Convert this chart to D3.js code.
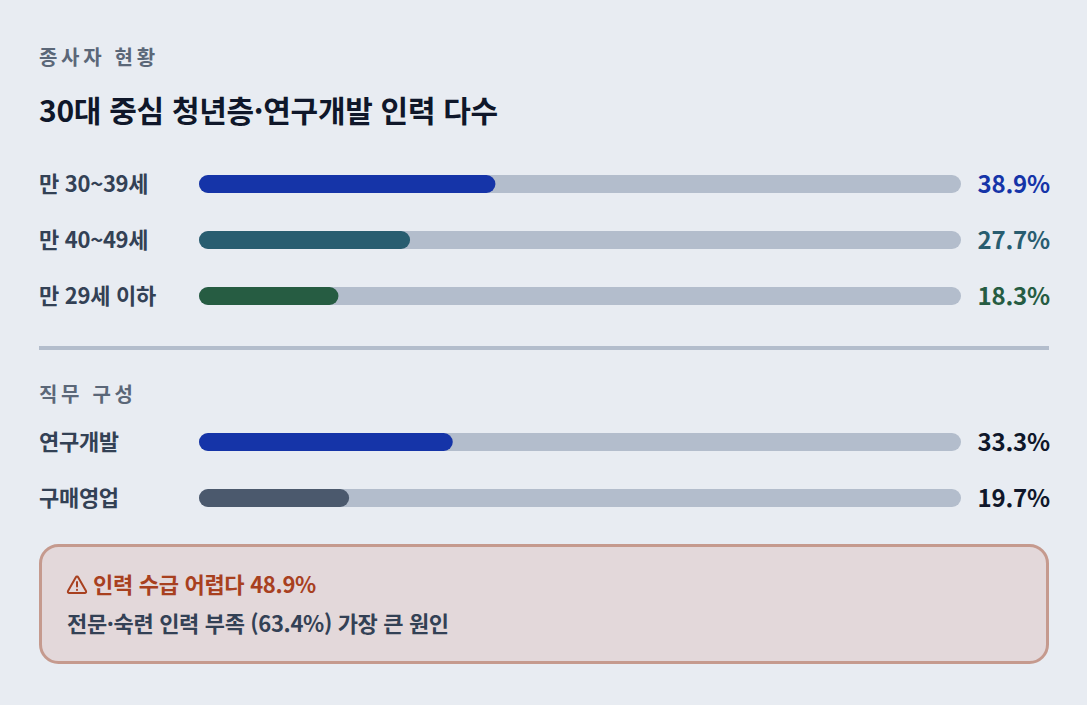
<!DOCTYPE html>
<html lang="ko"><head><meta charset="utf-8">
<script src="https://cdn.jsdelivr.net/npm/d3@7"></script>
<style>
html,body{margin:0;padding:0;background:#e8ecf2;}
svg{display:block;}
text{font-family:"Noto Sans CJK KR","Noto Sans",sans-serif;}
</style></head><body><svg id="c" width="1087" height="705"></svg>
<script>
const eyebrow = "종사자 현황";
const title = "30대 중심 청년층·연구개발 인력 다수";
const ageLabels = ["만 30~39세","만 40~49세","만 29세 이하"];
const ageValues = [38.9,27.7,18.3];
const ageColors = ["#1534a8","#285d70","#265c42"];
const jobHeading = "직무 구성";
const jobLabels = ["연구개발","구매영업"];
const jobValues = [33.3,19.7];
const jobColors = ["#1534a8","#4b596d"];
const alertHead = "인력 수급 어렵다 48.9%";
const alertBody = "전문·숙련 인력 부족 (63.4%) 가장 큰 원인";

const svg = d3.select("#c");
svg.append("rect").attr("width",1087).attr("height",705).attr("fill","#e8ecf2");

const x = d3.scaleLinear().domain([0,100]).range([199,961]);
const t = (px,py,s,size,weight,fill,extra)=>{
  const n = svg.append("text").attr("x",px).attr("y",py).attr("font-size",size).attr("font-weight",weight).attr("fill",fill).text(s);
  if(extra) extra(n); return n;
};
t(39,65,eyebrow,20,600,"#5b6778",n=>n.attr("letter-spacing",3.7));
t(39,122,title,30,700,"#0f172a",n=>n.attr("letter-spacing",-0.3));

function rows(labels,values,colors,ys,valueFill){
  labels.forEach((l,i)=>{
    const y=ys[i];
    t(39,y+8,l,22,600,"#334155",n=>n.attr("letter-spacing",-0.3));
    svg.append("rect").attr("x",x(0)).attr("y",y-9).attr("width",x(100)-x(0)).attr("height",18).attr("rx",9).attr("fill","#b3bdcc");
    svg.append("rect").attr("x",x(0)).attr("y",y-9).attr("width",x(values[i])-x(0)).attr("height",18).attr("rx",9).attr("fill",colors[i]);
    t(1050,y+9,values[i].toFixed(1)+"%",24,600,valueFill||colors[i],n=>n.attr("text-anchor","end").attr("letter-spacing",-0.2));
  });
}
rows(ageLabels,ageValues,ageColors,[184,240,296]);
svg.append("rect").attr("x",39).attr("y",346).attr("width",1010).attr("height",4).attr("fill","#b3bdcc");
t(39,402,jobHeading,20,600,"#5b6778",n=>n.attr("letter-spacing",3.7));
rows(jobLabels,jobValues,jobColors,[442,498],"#0f172a");

svg.append("rect").attr("x",40.5).attr("y",545.5).attr("width",1007).attr("height",117).attr("rx",18)
  .attr("fill","#e3d8da").attr("stroke","#c59a8e").attr("stroke-width",3);
const w=svg.append("g").attr("transform","translate(67,575)").attr("fill","none").attr("stroke","#a8401f").attr("stroke-width",2).attr("stroke-linejoin","round").attr("stroke-linecap","round");
w.append("path").attr("d","M10 1.5 Q10.8 1.5 11.3 2.4 L19 16 Q19.6 17.8 18 18 H2 Q0.4 17.8 1 16 L8.7 2.4 Q9.2 1.5 10 1.5 Z");
w.append("path").attr("d","M10 7 V11.5");
w.append("path").attr("d","M10 14.8 V15");
t(93,593,alertHead,22,700,"#a8401f",n=>n.attr("letter-spacing",-0.3));
t(67,632,alertBody,22,600,"#334155",n=>n.attr("letter-spacing",-0.35));
</script></body></html>
